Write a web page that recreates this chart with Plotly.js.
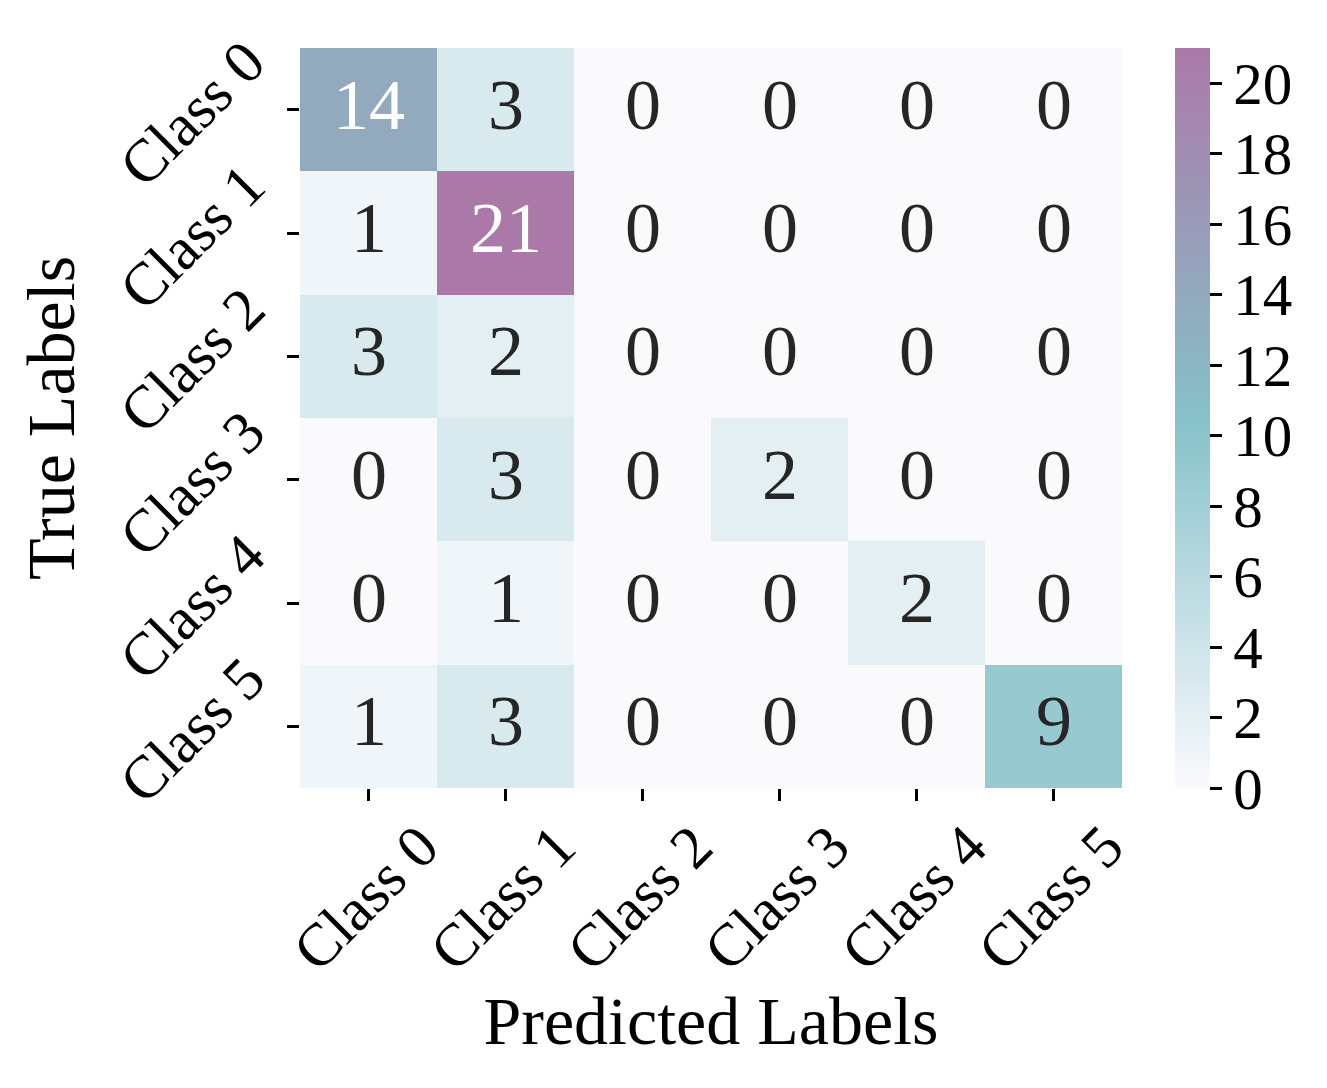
<!DOCTYPE html>
<html><head><meta charset="utf-8">
<script src="https://cdn.plot.ly/plotly-3.0.1.min.js"></script>
<style>body{margin:0;background:#fff}#chart{width:1327px;height:1088px}</style>
</head><body><div id="chart"></div>
<script>
const predLabels = ["Class 0","Class 1","Class 2","Class 3","Class 4","Class 5"];
const trueLabels = ["Class 0","Class 1","Class 2","Class 3","Class 4","Class 5"];
const counts = [
  [14, 3, 0, 0, 0, 0],
  [1, 21, 0, 0, 0, 0],
  [3, 2, 0, 0, 0, 0],
  [0, 3, 0, 2, 0, 0],
  [0, 1, 0, 0, 2, 0],
  [1, 3, 0, 0, 0, 9]
];
const cbTicks = [0,2,4,6,8,10,12,14,16,18,20];

const FONT = "Liberation Serif, Times New Roman, serif";
const annotations = [];
counts.forEach((row, i) => row.forEach((v, j) => {
  annotations.push({x: predLabels[j], y: trueLabels[i], text: String(v), showarrow: false, yshift: 5,
    font: {family: FONT, size: 72, color: v > 11 ? "#ffffff" : "#262626"}});
}));

const trace = {
  type: "heatmap", x: predLabels, y: trueLabels, z: counts,
  zmin: 0, zmax: 21,
  colorscale: [[0, "#fafafd"], [0.5, "#86c1c9"], [1, "#ab79a8"]],
  hoverinfo: "skip",
  colorbar: {
    x: 1.0645, xanchor: "left", xref: "paper", y: 1, yanchor: "top", len: 1, lenmode: "fraction",
    thickness: 35, thicknessmode: "pixels", outlinewidth: 0, ypad: 0, xpad: 0,
    tickvals: cbTicks, ticktext: cbTicks.map(String), ticks: "outside", ticklen: 12, tickwidth: 3,
    tickcolor: "#000", tickfont: {family: FONT, size: 59, color: "#000"}
  }
};

const layout = {
  width: 1327, height: 1088,
  margin: {l: 300, r: 205, t: 48, b: 300},
  paper_bgcolor: "#fff", plot_bgcolor: "#fff",
  font: {family: FONT, color: "#000"},
  xaxis: {type: "category", tickangle: -45, ticks: "outside", ticklen: 12, tickwidth: 3, tickcolor: "#000",
    ticklabelshift: 52, ticklabelstandoff: -14,
    tickfont: {family: FONT, size: 60}, showgrid: false, zeroline: false, showline: false,
    title: {text: "Predicted Labels", font: {family: FONT, size: 68}, standoff: 14}},
  yaxis: {type: "category", autorange: "reversed", tickangle: -45, ticks: "outside", ticklen: 12, tickwidth: 3, tickcolor: "#000",
    ticklabelshift: 56, ticklabelstandoff: 28,
    tickfont: {family: FONT, size: 60}, showgrid: false, zeroline: false, showline: false,
    title: {text: "True Labels", font: {family: FONT, size: 68}, standoff: 10}},
  annotations: annotations
};
Plotly.newPlot("chart", [trace], layout, {displayModeBar: false, staticPlot: true});
</script></body></html>
